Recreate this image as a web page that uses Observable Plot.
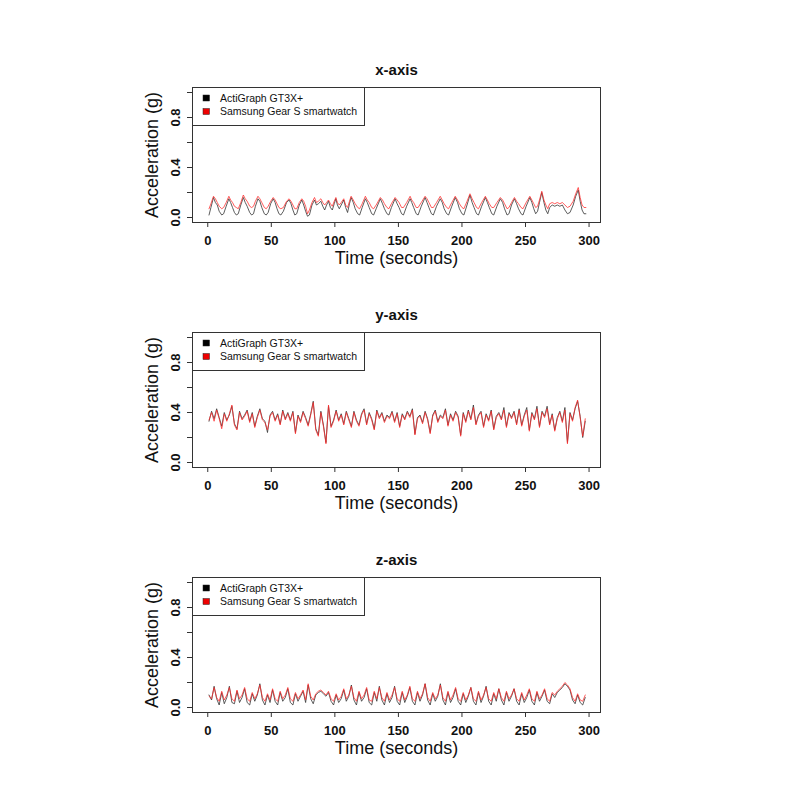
<!DOCTYPE html>
<html><head><meta charset="utf-8">
<script src="https://cdn.jsdelivr.net/npm/d3@7"></script>
<script src="https://cdn.jsdelivr.net/npm/@observablehq/plot@0.6"></script>
<style>
body{margin:0;background:#fff;}
#wrap{position:relative;width:800px;height:800px;background:#fff;}
.panel{position:absolute;left:0;}
</style></head><body><div id="wrap"></div>
<script>
// ---- data ----
const titles = ["x-axis", "y-axis", "z-axis"];
const seriesNames = ["ActiGraph GT3X+", "Samsung Gear S smartwatch"];
const xTicks = [0, 50, 100, 150, 200, 250, 300];
const yTicks = [0, 0.2, 0.4, 0.6, 0.8, 1.0];
const yTickLabels = [0, 0.4, 0.8];

// x-axis panel
const timeX = [
  1,2.5,4.5,6,7.5,9,11,12.5,14.5,16.6,
  18,19.5,21,22.5,24,26,28,29.5,31,33,
  34.5,36,37.5,39.5,41,42.5,44.5,46,47.5,49.5,
  51.5,53,54.5,56,57.5,59.5,62,64,65.5,67,
  68.5,70,72,74,75.5,77,78.5,80,82,84,
  85.5,87,89,90.5,92,93.5,95,96.5,98,99.5,
  100.8,102,103.5,105,107,108.5,110,111.5,112.8,114.5,
  116,118,119.5,121.5,124,125.5,127,129,130.5,132.5,
  135.8,137.5,139,141,142.5,144.5,147.4,149,150.5,152.5,
  154,156.5,159.2,160.5,162,164,165.5,168,171,172.5,
  174,176,177.5,180,182.9,184.5,186,188,189.5,192,
  194.7,196.5,198,200,201.5,204,206.3,208,209.5,211.5,
  213,215.5,218.4,220,221.5,223.5,225,227.5,230.2,232,
  233.5,235.5,237,239,241.3,243,244.5,246.5,248,250.5,
  253.4,255,256.5,258,259.5,261,262.8,264.5,266,267.5,
  269,271,273,275,277,279,281,283,285,287.5,
  289.5,291.5,293,294.5,296,297.5];
const actiX = [
  0.02,0.08,0.16,0.12,0.10,0.05,0.02,0.03,0.09,0.15,
  0.12,0.08,0.04,0.02,0.03,0.10,0.16,0.12,0.09,0.04,
  0.02,0.03,0.09,0.15,0.13,0.08,0.03,0.02,0.04,0.11,
  0.15,0.12,0.07,0.03,0.02,0.05,0.12,0.14,0.11,0.06,
  0.02,0.03,0.10,0.14,0.10,0.05,0.01,0.02,0.10,0.14,
  0.10,0.11,0.13,0.09,0.06,0.10,0.13,0.08,0.06,0.11,
  0.15,0.10,0.07,0.10,0.14,0.08,0.04,0.11,0.16,0.12,
  0.07,0.03,0.02,0.08,0.15,0.12,0.08,0.03,0.02,0.07,
  0.15,0.11,0.07,0.03,0.02,0.08,0.15,0.11,0.08,0.03,
  0.02,0.09,0.15,0.12,0.08,0.03,0.02,0.09,0.16,0.12,
  0.08,0.03,0.02,0.09,0.15,0.12,0.07,0.03,0.02,0.09,
  0.16,0.12,0.07,0.03,0.02,0.10,0.18,0.12,0.08,0.03,
  0.02,0.09,0.16,0.12,0.08,0.03,0.02,0.09,0.15,0.12,
  0.07,0.02,0.03,0.10,0.15,0.11,0.07,0.03,0.02,0.09,
  0.16,0.12,0.07,0.03,0.05,0.12,0.20,0.12,0.06,0.03,
  0.08,0.10,0.09,0.10,0.09,0.10,0.06,0.03,0.04,0.10,
  0.17,0.22,0.13,0.06,0.03,0.03];
const gearX = [
  0.07,0.11,0.17,0.15,0.12,0.09,0.07,0.08,0.12,0.17,
  0.14,0.12,0.09,0.08,0.07,0.12,0.18,0.15,0.13,0.09,
  0.08,0.09,0.13,0.17,0.15,0.12,0.08,0.07,0.09,0.13,
  0.16,0.14,0.11,0.08,0.07,0.08,0.13,0.15,0.13,0.10,
  0.07,0.07,0.12,0.15,0.13,0.09,0.03,0.06,0.12,0.16,
  0.12,0.13,0.15,0.12,0.10,0.12,0.14,0.11,0.09,0.13,
  0.16,0.12,0.10,0.12,0.15,0.10,0.08,0.13,0.17,0.14,
  0.11,0.08,0.07,0.11,0.17,0.14,0.12,0.08,0.07,0.10,
  0.16,0.14,0.11,0.08,0.07,0.11,0.16,0.14,0.12,0.08,
  0.08,0.12,0.17,0.14,0.12,0.08,0.08,0.12,0.17,0.15,
  0.12,0.08,0.08,0.12,0.17,0.14,0.11,0.08,0.07,0.12,
  0.17,0.14,0.11,0.08,0.07,0.13,0.19,0.15,0.12,0.08,
  0.07,0.12,0.17,0.14,0.11,0.08,0.08,0.12,0.16,0.14,
  0.11,0.07,0.08,0.12,0.16,0.13,0.11,0.08,0.07,0.12,
  0.17,0.14,0.11,0.08,0.09,0.14,0.21,0.14,0.10,0.07,
  0.11,0.12,0.11,0.12,0.11,0.12,0.10,0.08,0.09,0.13,
  0.19,0.24,0.16,0.10,0.08,0.08];

// y-axis panel (one reading every 2 s)
const timeY = [
  1,3,5,7,9,11,13,15,17,19,
  21,23,25,27,29,31,33,35,37,39,
  41,43,45,47,49,51,53,55,57,59,
  61,63,65,67,69,71,73,75,77,79,
  81,83,85,87,89,91,93,95,97,99,
  101,103,105,107,109,111,113,115,117,119,
  121,123,125,127,129,131,133,135,137,139,
  141,143,145,147,149,151,153,155,157,159,
  161,163,165,167,169,171,173,175,177,179,
  181,183,185,187,189,191,193,195,197,199,
  201,203,205,207,209,211,213,215,217,219,
  221,223,225,227,229,231,233,235,237,239,
  241,243,245,247,249,251,253,255,257,259,
  261,263,265,267,269,271,273,275,277,279,
  281,283,285,287,289,291,293,295,297];
const actiY = [
  0.33,0.41,0.35,0.43,0.36,0.29,0.40,0.34,0.38,0.45,
  0.31,0.27,0.41,0.35,0.38,0.42,0.33,0.40,0.29,0.37,
  0.43,0.35,0.33,0.24,0.38,0.41,0.34,0.39,0.31,0.42,
  0.35,0.40,0.34,0.41,0.24,0.38,0.33,0.41,0.36,0.30,
  0.39,0.49,0.27,0.22,0.41,0.30,0.16,0.45,0.29,0.34,
  0.42,0.34,0.39,0.31,0.41,0.35,0.29,0.41,0.34,0.30,
  0.39,0.43,0.31,0.40,0.35,0.27,0.42,0.36,0.40,0.33,
  0.38,0.36,0.41,0.33,0.40,0.29,0.39,0.35,0.41,0.37,
  0.43,0.23,0.36,0.38,0.32,0.41,0.35,0.24,0.38,0.42,
  0.33,0.38,0.36,0.43,0.30,0.39,0.34,0.41,0.37,0.22,
  0.40,0.33,0.42,0.35,0.46,0.31,0.38,0.41,0.29,0.39,
  0.34,0.42,0.27,0.37,0.40,0.35,0.44,0.29,0.40,0.36,
  0.41,0.31,0.43,0.30,0.38,0.44,0.26,0.40,0.35,0.45,
  0.29,0.41,0.37,0.45,0.31,0.39,0.26,0.36,0.41,0.33,
  0.44,0.16,0.40,0.34,0.43,0.49,0.37,0.20,0.33];
const gearY = [
  0.34,0.40,0.33,0.42,0.35,0.27,0.39,0.33,0.39,0.46,
  0.30,0.26,0.40,0.34,0.37,0.41,0.32,0.39,0.28,0.36,
  0.42,0.34,0.32,0.26,0.37,0.40,0.33,0.38,0.30,0.41,
  0.34,0.39,0.33,0.40,0.23,0.37,0.32,0.40,0.35,0.29,
  0.38,0.48,0.26,0.21,0.40,0.29,0.15,0.46,0.28,0.33,
  0.41,0.33,0.38,0.30,0.40,0.34,0.28,0.40,0.33,0.29,
  0.38,0.42,0.30,0.39,0.34,0.26,0.41,0.35,0.39,0.32,
  0.37,0.35,0.40,0.32,0.39,0.28,0.38,0.34,0.40,0.36,
  0.42,0.22,0.35,0.37,0.31,0.40,0.34,0.23,0.37,0.41,
  0.32,0.37,0.35,0.42,0.29,0.38,0.33,0.40,0.36,0.21,
  0.39,0.32,0.41,0.34,0.44,0.30,0.37,0.40,0.28,0.38,
  0.33,0.41,0.26,0.36,0.39,0.34,0.42,0.28,0.39,0.35,
  0.40,0.30,0.42,0.29,0.37,0.42,0.25,0.39,0.34,0.43,
  0.28,0.40,0.36,0.43,0.30,0.38,0.25,0.35,0.40,0.32,
  0.42,0.15,0.39,0.33,0.44,0.50,0.36,0.21,0.35];

// z-axis panel (same 2 s reading times as the y-axis panel)
const timeZ = timeY.slice();
const actiZ = [
  0.10,0.06,0.17,0.07,0.02,0.12,0.03,0.08,0.17,0.04,
  0.03,0.13,0.04,0.08,0.15,0.04,0.02,0.11,0.05,0.10,
  0.19,0.06,0.02,0.10,0.04,0.14,0.05,0.02,0.12,0.05,
  0.08,0.15,0.04,0.02,0.11,0.05,0.09,0.13,0.04,0.18,
  0.07,0.03,0.10,0.12,0.13,0.11,0.09,0.12,0.05,0.02,
  0.10,0.04,0.07,0.14,0.05,0.09,0.18,0.06,0.02,0.12,
  0.05,0.08,0.15,0.04,0.02,0.12,0.05,0.17,0.06,0.02,
  0.11,0.04,0.08,0.17,0.05,0.02,0.12,0.04,0.09,0.16,
  0.05,0.02,0.12,0.05,0.10,0.19,0.06,0.02,0.11,0.05,
  0.09,0.19,0.06,0.02,0.12,0.04,0.08,0.15,0.05,0.02,
  0.11,0.04,0.09,0.16,0.05,0.02,0.12,0.04,0.09,0.17,
  0.05,0.02,0.11,0.05,0.15,0.06,0.02,0.12,0.05,0.09,
  0.15,0.05,0.02,0.11,0.04,0.08,0.14,0.05,0.02,0.12,
  0.05,0.09,0.14,0.05,0.03,0.11,0.08,0.12,0.14,0.16,
  0.19,0.17,0.14,0.06,0.03,0.10,0.04,0.02,0.08];
const gearZ = [
  0.09,0.07,0.16,0.08,0.05,0.13,0.06,0.10,0.16,0.07,
  0.05,0.14,0.07,0.10,0.16,0.07,0.05,0.12,0.07,0.11,
  0.18,0.08,0.05,0.11,0.06,0.15,0.07,0.05,0.13,0.07,
  0.10,0.16,0.07,0.05,0.12,0.07,0.10,0.14,0.06,0.19,
  0.09,0.06,0.11,0.13,0.14,0.12,0.10,0.13,0.07,0.05,
  0.11,0.06,0.09,0.15,0.07,0.10,0.17,0.08,0.05,0.13,
  0.07,0.10,0.16,0.06,0.05,0.13,0.07,0.16,0.08,0.05,
  0.12,0.06,0.10,0.16,0.07,0.05,0.13,0.06,0.10,0.17,
  0.07,0.05,0.13,0.07,0.11,0.19,0.08,0.05,0.12,0.07,
  0.10,0.18,0.08,0.05,0.13,0.06,0.10,0.16,0.07,0.05,
  0.12,0.06,0.10,0.16,0.07,0.05,0.13,0.06,0.10,0.16,
  0.07,0.05,0.12,0.07,0.15,0.08,0.05,0.13,0.07,0.10,
  0.15,0.07,0.05,0.12,0.06,0.10,0.15,0.07,0.05,0.13,
  0.07,0.10,0.15,0.07,0.05,0.12,0.10,0.13,0.15,0.17,
  0.20,0.18,0.15,0.08,0.05,0.11,0.06,0.05,0.10];

// ---- drawing ----
const panels = [
  {title: titles[0], time: timeX, acti: actiX, gear: gearX},
  {title: titles[1], time: timeY, acti: actiY, gear: gearY},
  {title: titles[2], time: timeZ, acti: actiZ, gear: gearZ}
];
const font = "'Liberation Sans', Arial, sans-serif";
const ink = "#333";
const wrap = document.getElementById("wrap");

panels.forEach((p, k) => {
  const acti = p.time.map((t, i) => ({t, v: p.acti[i]}));
  const gear = p.time.map((t, i) => ({t, v: p.gear[i]}));
  const svg = Plot.plot({
    width: 800, height: 245,
    marginLeft: 192, marginRight: 200, marginTop: 47, marginBottom: 63,
    style: {fontFamily: font, background: "transparent", color: ink},
    x: {domain: [-12, 309]},
    y: {domain: [-0.04, 1.04]},
    marks: [
      Plot.line(acti, {x: "t", y: "v", stroke: "#333", strokeWidth: 0.8}),
      Plot.line(gear, {x: "t", y: "v", stroke: "#ff2a2a", strokeWidth: 0.85, strokeOpacity: 0.9}),
      Plot.frame({stroke: ink, strokeWidth: 1}),
      Plot.axisY({ticks: yTicks, tickSize: 5, tickFormat: () => "", label: null, stroke: ink}),
      Plot.axisX({ticks: xTicks, tickSize: 5, tickFormat: () => "", label: null, stroke: ink}),
      Plot.text(xTicks, {x: d => d, text: d => String(d), frameAnchor: "bottom", dy: 18, textAnchor: "middle", lineAnchor: "middle", fontWeight: "bold", fontSize: 13, fill: "#111"}),
      Plot.text(yTickLabels, {y: d => d, text: d => d.toFixed(1), frameAnchor: "left", dx: -17, rotate: -90, textAnchor: "middle", lineAnchor: "middle", fontWeight: "bold", fontSize: 13, fill: "#111"}),
      Plot.text(["Time (seconds)"], {frameAnchor: "bottom", dy: 36, textAnchor: "middle", lineAnchor: "middle", fontSize: 18, fill: "#111"}),
      Plot.text(["Acceleration (g)"], {frameAnchor: "left", dx: -40, rotate: -90, textAnchor: "middle", lineAnchor: "middle", fontSize: 18, fill: "#111"}),
      Plot.text([p.title], {frameAnchor: "top", dy: -17, textAnchor: "middle", lineAnchor: "middle", fontWeight: "bold", fontSize: 15, fill: "#111"})
    ]
  });
  svg.classList.add("panel");
  svg.style.top = (40 + k * 245) + "px";
  // legend box (top-left corner of the plot region)
  const g = d3.select(svg).append("g").attr("font-family", font).attr("font-size", 10.5).attr("text-anchor", "start");
  g.append("rect").attr("x", 192.5).attr("y", 47.5).attr("width", 172).attr("height", 38)
    .attr("fill", "white").attr("stroke", ink);
  const cols = ["#000", "#ee0000"];
  seriesNames.forEach((name, i) => {
    const cy = 47 + 11 + i * 13.5;
    g.append("rect").attr("x", 203).attr("y", cy - 3).attr("width", 6.5).attr("height", 6)
      .attr("fill", cols[i]).attr("stroke", "#222").attr("stroke-width", 0.5);
    g.append("text").attr("x", 220).attr("y", cy).attr("dy", "0.35em").attr("fill", "#111").text(name);
  });
  wrap.appendChild(svg);
});
</script>
</body></html>
